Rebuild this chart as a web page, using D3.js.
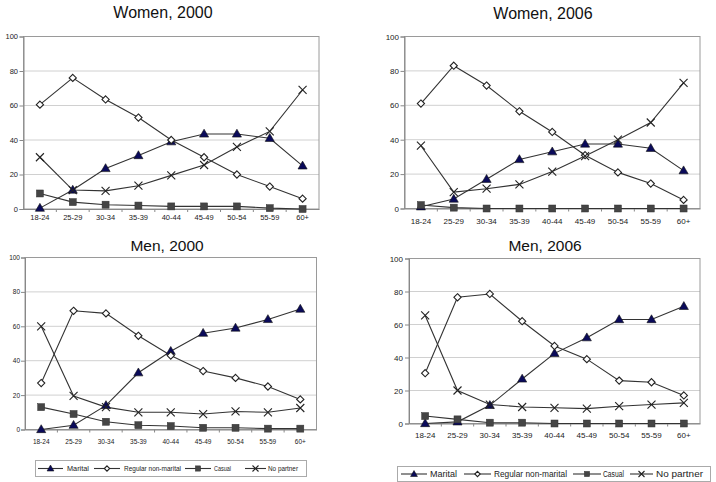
<!DOCTYPE html>
<html><head><meta charset="utf-8">
<script src="https://cdn.jsdelivr.net/npm/d3@7/dist/d3.min.js"></script>
<style>body{margin:0;background:#fff;} svg{display:block;font-family:"Liberation Sans",Arial,sans-serif;}</style>
</head><body>
<svg id="c" width="716" height="482"></svg>
<script>
const categories = ["18-24","25-29","30-34","35-39","40-44","45-49","50-54","55-59","60+"];
const yTicks = [0,20,40,60,80,100];
const seriesNames = ["Marital","Regular non-marital","Casual","No partner"];
const panelTitles = ["Women, 2000","Women, 2006","Men, 2000","Men, 2006"];

const women2000Marital  = [0.5, 11, 23.5, 31, 39, 43.5, 43.5, 41, 25];
const women2000Regular  = [60.5, 76, 63.5, 53, 40, 30, 20, 13, 6];
const women2000Casual   = [9, 4, 2.5, 2, 1.5, 1.5, 1.5, 0.5, 0];
const women2000None     = [30, 11, 10.5, 13.5, 19.5, 25.5, 36, 45, 69];

const women2006Marital  = [1, 5.5, 17, 28.5, 33, 37.5, 37.5, 35, 22];
const women2006Regular  = [61, 83, 71.5, 56.5, 44.5, 31, 21, 14.5, 5];
const women2006Casual   = [2, 0.5, 0, 0, 0, 0, 0, 0, 0];
const women2006None     = [36.5, 9.5, 11.5, 14, 21.5, 30.5, 40, 50, 73];

const men2000Marital    = [0, 2.5, 14, 33, 45.5, 56, 59, 64, 70];
const men2000Regular    = [27, 69, 67.5, 54.5, 43, 34, 30, 25, 17.5];
const men2000Casual     = [13, 9, 4.5, 2.5, 2, 1, 1, 0.5, 0.5];
const men2000None       = [60, 19.5, 13, 10, 10, 9, 10.5, 10, 12.5];

const men2006Marital    = [0, 1, 11, 27, 42.5, 52, 63, 63, 71];
const men2006Regular    = [30.5, 76.5, 78.5, 62, 47, 39, 26, 25, 17];
const men2006Casual     = [4.5, 2.5, 0.5, 0.5, 0, 0, 0, 0, 0];
const men2006None       = [65.5, 20, 11.5, 10, 9.5, 9, 10.5, 11.5, 12.5];

const panelData = [
  [women2000Marital, women2000Regular, women2000Casual, women2000None],
  [women2006Marital, women2006Regular, women2006Casual, women2006None],
  [men2000Marital, men2000Regular, men2000Casual, men2000None],
  [men2006Marital, men2006Regular, men2006Casual, men2006None]
];

// layout (positions only)
const layout = [
  {x0:23.5, x1:319, y0:36.5, y1:209, tx:163, ty:18, fs:7.5, xlY:220, ylX:18},
  {x0:404.5, x1:700, y0:36.5, y1:208.5, tx:543, ty:19, fs:8, xlY:224, ylX:399},
  {x0:25, x1:316.5, y0:257.5, y1:429.5, tx:167, ty:251, fs:6.5, xlY:444, ylX:20},
  {x0:409, x1:700, y0:258.5, y1:423.5, tx:545, ty:251, fs:8, xlY:438, ylX:403}
];

const svg = d3.select("#c");
const lineCol = "#333";

function marker(g, type, x, y, s) {
  s = s || 1;
  if (type === 0) {
    g.append("path").attr("d", d3.symbol(d3.symbolTriangle, 36*s*s)())
      .attr("transform", `translate(${x},${y+0.5})`).attr("fill", "#0a0a5a").attr("stroke", "#111").attr("stroke-width", 0.6);
  } else if (type === 1) {
    const r = 3.6*s;
    g.append("path").attr("d", `M${x},${y-r}L${x+r},${y}L${x},${y+r}L${x-r},${y}Z`)
      .attr("fill", "#fff").attr("stroke", "#222").attr("stroke-width", 1.1);
  } else if (type === 2) {
    const r = 3.5*s;
    g.append("rect").attr("x", x-r).attr("y", y-r).attr("width", 2*r).attr("height", 2*r)
      .attr("fill", "#454545").attr("stroke", "#333").attr("stroke-width", 0.5);
  } else {
    const r = 4*s;
    g.append("path").attr("d", `M${x-r},${y-r}L${x+r},${y+r}M${x-r},${y+r}L${x+r},${y-r}`)
      .attr("stroke", "#222").attr("stroke-width", 1.1).attr("fill", "none");
  }
}

layout.forEach((L, pi) => {
  const g = svg.append("g");
  const x = d3.scaleBand().domain(categories).range([L.x0, L.x1]);
  const y = d3.scaleLinear().domain([0, 100]).range([L.y1, L.y0]);
  g.selectAll(".grid").data(yTicks.filter(t => t > 0 && t < 100)).enter().append("line")
    .attr("x1", L.x0).attr("x2", L.x1).attr("y1", d => y(d)).attr("y2", d => y(d))
    .attr("stroke", "#d0d0d0").attr("stroke-width", 1);
  g.append("rect").attr("x", L.x0).attr("y", L.y0).attr("width", L.x1 - L.x0).attr("height", L.y1 - L.y0)
    .attr("fill", "none").attr("stroke", "#9a9a9a").attr("stroke-width", 1);
  const ya = d3.axisLeft(y).tickValues(yTicks).tickSize(4).tickPadding(3).tickFormat(d3.format("d"));
  const yg = g.append("g").attr("transform", `translate(${L.x0},0)`).call(ya);
  yg.select(".domain").attr("stroke", "#888");
  yg.selectAll(".tick line").attr("stroke", "#888");
  yg.selectAll("text").attr("font-size", L.fs).attr("fill", "#222").attr("x", L.ylX - L.x0);
  const xa = d3.axisBottom(x).tickSize(0).tickPadding(0);
  const xg = g.append("g").attr("transform", `translate(0,${L.y1})`).call(xa);
  xg.select(".domain").attr("stroke", "#888");
  xg.selectAll("text").attr("font-size", L.fs).attr("fill", "#222").attr("dy", 0).attr("y", L.xlY - L.y1);
  g.selectAll(".bt").data(categories.slice(1)).enter().append("line")
    .attr("x1", d => x(d)).attr("x2", d => x(d)).attr("y1", L.y1).attr("y2", L.y1 + 3)
    .attr("stroke", "#888");
  g.append("text").attr("x", L.tx).attr("y", L.ty).attr("text-anchor", "middle")
    .attr("font-size", pi < 2 ? 16 : 15.5).attr("fill", "#111").text(panelTitles[pi]);
  const line = d3.line().x((d, i) => x(categories[i]) + x.bandwidth()/2).y(d => y(d));
  panelData[pi].forEach((vals) => {
    g.append("path").datum(vals).attr("d", line).attr("fill", "none").attr("stroke", lineCol).attr("stroke-width", 1.1);
  });
  panelData[pi].forEach((vals, si) => {
    vals.forEach((v, i) => marker(g, si, x(categories[i]) + x.bandwidth()/2, y(v)));
  });
});

// legends: [lineStart, lineEnd, textStart, textWidth]
const legends = [
  {bx:35, by:460, bw:271, bh:16, fs:7, items:[[38,63,67,22],[94,120,124,57],[185,211,214,17],[245,266,268,30]]},
  {bx:397, by:466, bw:313, bh:15, fs:8.5, items:[[401,427,430,27],[464,491,494,73],[573,601,603,21],[630,653,656,47]]}
];
legends.forEach(Lg => {
  const g = svg.append("g");
  g.append("rect").attr("x", Lg.bx + 0.5).attr("y", Lg.by + 0.5).attr("width", Lg.bw).attr("height", Lg.bh)
    .attr("fill", "#fff").attr("stroke", "#aaa");
  const cy = Lg.by + Lg.bh/2 + 0.5;
  seriesNames.forEach((name, si) => {
    const it = Lg.items[si];
    g.append("line").attr("x1", it[0]).attr("x2", it[1]).attr("y1", cy).attr("y2", cy).attr("stroke", lineCol).attr("stroke-width", 1.1);
    marker(g, si, (it[0] + it[1]) / 2, cy, 0.75);
    g.append("text").attr("x", it[2]).attr("y", cy + Lg.fs*0.36).attr("font-size", Lg.fs).attr("fill", "#222")
      .attr("textLength", it[3]).attr("lengthAdjust", "spacingAndGlyphs").text(name);
  });
});
</script>
</body></html>
